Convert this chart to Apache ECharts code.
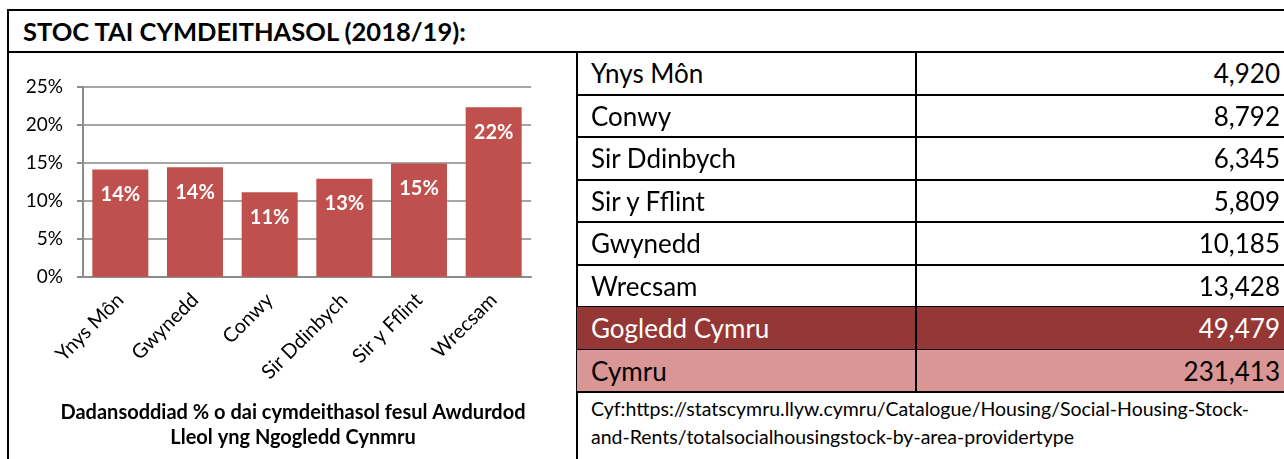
<!DOCTYPE html>
<html>
<head>
<meta charset="utf-8">
<script src="https://cdn.jsdelivr.net/npm/echarts@6/dist/echarts.min.js"></script>
<style>
  html, body { margin: 0; padding: 0; background: #fff; }
  body { width: 1284px; height: 459px; position: relative; overflow: hidden; font-family: Lato, "Open Sans", sans-serif; color: #000; }
  .line { position: absolute; background: #000; }
  .fill { position: absolute; }
  .cell { position: absolute; white-space: nowrap; font-size: 26px; }
  #title { position: absolute; left: 23px; top: 11px; height: 41px; line-height: 41px; font-size: 25.5px; font-weight: bold; }
  #chart { position: absolute; left: 9px; top: 53px; width: 568px; height: 406px; }
  #source { position: absolute; left: 591px; top: 395px; font-size: 19.5px; line-height: 28px; white-space: nowrap; }
</style>
</head>
<body>
<div id="title">STOC TAI CYMDEITHASOL (2018/19):</div>
<div id="chart"></div>
<div id="source"></div>
<script>
// chart data (% of housing stock that is social housing)
const chartAreas = ["Ynys Môn", "Gwynedd", "Conwy", "Sir Ddinbych", "Sir y Fflint", "Wrecsam"];
const sharePct = [14.1, 14.4, 11.1, 12.9, 14.9, 22.3];
const yTicks = [0, 5, 10, 15, 20, 25];
const captionLines = ["Dadansoddiad % o dai cymdeithasol fesul Awdurdod", "Lleol yng Ngogledd Cynmru"];

// table data
const tableAreas = ["Ynys Môn", "Conwy", "Sir Ddinbych", "Sir y Fflint", "Gwynedd", "Wrecsam"];
const tableStock = [4920, 8792, 6345, 5809, 10185, 13428];
const totalLabels = ["Gogledd Cymru", "Cymru"];
const totalStock = [49479, 231413];
const sourceLines = [
  "Cyf:https://statscymru.llyw.cymru/Catalogue/Housing/Social-Housing-Stock-",
  "and-Rents/totalsocialhousingstock-by-area-providertype",
];

function addEl(cls, style, text) {
  const el = document.createElement("div");
  el.className = cls;
  Object.assign(el.style, style);
  if (text !== undefined) el.textContent = text;
  document.body.appendChild(el);
  return el;
}

// frame lines
addEl("line", { left: "7px", top: "9px", width: "1300px", height: "2px" });
addEl("line", { left: "7px", top: "9px", width: "2px", height: "460px" });
addEl("line", { left: "7px", top: "51px", width: "1300px", height: "2px" });
addEl("line", { left: "576px", top: "51px", width: "2px", height: "420px" });

// table rows
const rowTop = 52;
const rowH = 42.5;
const rows = tableAreas.map((name, i) => ({ name, value: tableStock[i], bg: null, color: "#000" }));
rows.push({ name: totalLabels[0], value: totalStock[0], bg: "#953735", color: "#fff" });
rows.push({ name: totalLabels[1], value: totalStock[1], bg: "#d99694", color: "#000" });

rows.forEach((row, i) => {
  const y0 = rowTop + i * rowH;
  if (row.bg) {
    addEl("fill", { left: "577px", top: y0 + "px", width: "720px", height: rowH + "px", background: row.bg });
  }
  const textStyle = { top: y0 + "px", height: rowH + "px", lineHeight: rowH + "px", color: row.color };
  addEl("cell", Object.assign({ left: "591px" }, textStyle), row.name);
  addEl("cell", Object.assign({ right: "4px" }, textStyle), row.value.toLocaleString("en-GB"));
  addEl("line", { left: "577px", top: (Math.round(y0 + rowH) - 1) + "px", width: "720px", height: "2px" });
});
addEl("line", { left: "915px", top: "51px", width: "2px", height: (rows.length * rowH + 1) + "px" });

document.getElementById("source").innerHTML = sourceLines.join("<br>");

const chart = echarts.init(document.getElementById("chart"));
const axisGrey = "#8c8c8c";
chart.setOption({
  animation: false,
  textStyle: { fontFamily: "Lato" },
  title: {
    text: captionLines.join("\n"),
    left: "center",
    top: 342,
    textStyle: { fontSize: 20, fontWeight: "bold", color: "#000", lineHeight: 25, fontFamily: "Lato" },
  },
  grid: { left: 74, right: 46, top: 33.7, bottom: 182.3 },
  xAxis: {
    type: "category",
    data: chartAreas,
    axisLine: { lineStyle: { color: axisGrey, width: 2 } },
    axisTick: { length: 6, lineStyle: { color: axisGrey, width: 2 } },
    axisLabel: { rotate: 45, interval: 0, fontSize: 20, color: "#000", margin: 20 },
  },
  yAxis: {
    type: "value",
    min: yTicks[0],
    max: yTicks[yTicks.length - 1],
    interval: yTicks[1] - yTicks[0],
    axisLine: { show: true, lineStyle: { color: axisGrey, width: 2 } },
    axisTick: { show: true, length: 6, lineStyle: { color: axisGrey, width: 2 } },
    axisLabel: { formatter: "{value}%", fontSize: 19, color: "#000", margin: 20 },
    splitLine: { lineStyle: { color: "#a6a6a6", width: 2 } },
  },
  series: [
    {
      type: "bar",
      data: sharePct,
      barCategoryGap: "25%",
      itemStyle: { color: "#c0504d" },
      label: {
        show: true,
        position: "insideTop",
        distance: 15,
        color: "#fff",
        fontWeight: "bold",
        fontSize: 20,
        formatter: (p) => Math.round(p.value) + "%",
      },
    },
  ],
});
</script>
</body>
</html>
